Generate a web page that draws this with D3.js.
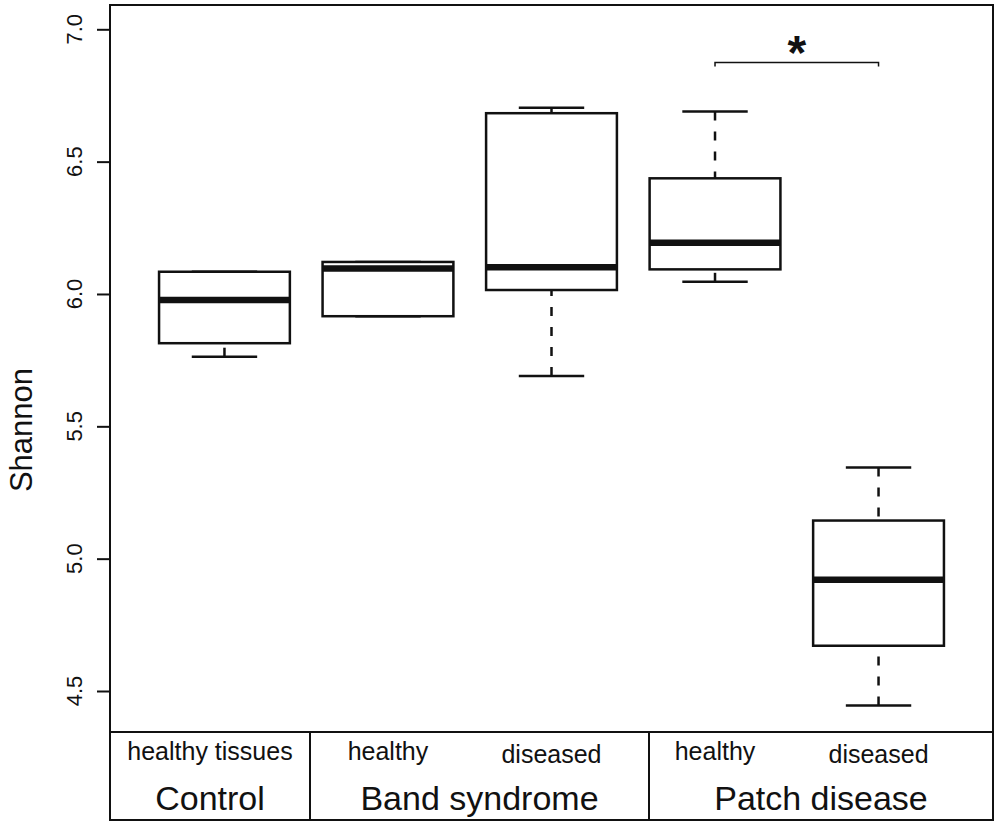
<!DOCTYPE html>
<html><head><meta charset="utf-8">
<script src="https://cdn.jsdelivr.net/npm/d3@7"></script>
<style>body{margin:0;background:#fff} text{font-family:"Liberation Sans",Arial,Helvetica,sans-serif;fill:#111}</style>
</head><body><svg id="c" width="1000" height="825"></svg>
<script>
// ---- data ----
const subLabels = ["healthy tissues","healthy","diseased","healthy","diseased"];
const groupNames = ["Control","Band syndrome","Patch disease"];
const groupOf = [0,1,1,2,2];
const whiskerLow  = [5.763, 5.916, 5.690, 6.046, 4.445];
const q1          = [5.814, 5.916, 6.015, 6.093, 4.671];
const medians     = [5.977, 6.096, 6.101, 6.194, 4.920];
const q3          = [6.084, 6.121, 6.683, 6.437, 5.144];
const whiskerHigh = [6.084, 6.121, 6.704, 6.689, 5.344];
const yTicks = [4.5, 5.0, 5.5, 6.0, 6.5, 7.0];
const yTickLabels = ["4.5","5.0","5.5","6.0","6.5","7.0"];
const sigPair = [4, 5];
const sigLevel = 6.875;
const sigLabel = "*";
const yTitle = "Shannon";

// ---- layout ----
const svg = d3.select("#c");
const L = 110, R = 993, T = 5, B = 732, TB = 820;
const x = d3.scaleLinear().domain([0.3, 5.7]).range([L, R]);
const y = d3.scaleLinear().domain([4.5, 7.0]).range([691, 29.3]);
const bw = x(1.4) - x(1);   // half box width (0.4 units)
const cw = bw / 2;           // half cap width
const col = "#111";

// frame
svg.append("rect").attr("x", L).attr("y", T).attr("width", R - L).attr("height", B - T)
  .attr("fill", "none").attr("stroke", col).attr("stroke-width", 2);

// y axis ticks
const yAxis = d3.axisLeft(y).tickValues(yTicks).tickSize(13).tickFormat("");
const ga = svg.append("g").attr("transform", `translate(${L},0)`).call(yAxis);
ga.select(".domain").remove();
ga.selectAll(".tick line").attr("stroke", col).attr("stroke-width", 2);
svg.selectAll(".ylab").data(yTicks).enter().append("text")
  .attr("transform", (d) => `translate(82,${y(d)}) rotate(-90)`)
  .attr("text-anchor", "middle").attr("font-size", 22)
  .text((d, i) => yTickLabels[i]);
svg.append("text").attr("transform", "translate(32,430) rotate(-90)")
  .attr("text-anchor", "middle").attr("font-size", 31).text(yTitle);

// boxes
const idx = d3.range(subLabels.length);
const g = svg.append("g");
idx.forEach(i => {
  const cx = x(i + 1);
  [[whiskerLow[i], q1[i]], [whiskerHigh[i], q3[i]]].forEach(([w, h]) => {
    if (Math.abs(y(w) - y(h)) > 0.5) {
      g.append("line").attr("x1", cx).attr("x2", cx).attr("y1", y(w)).attr("y2", y(h))
        .attr("stroke", col).attr("stroke-width", 2.5).attr("stroke-dasharray", "9,11");
    }
    g.append("line").attr("x1", cx - cw).attr("x2", cx + cw).attr("y1", y(w)).attr("y2", y(w))
      .attr("stroke", col).attr("stroke-width", 2.5);
  });
  g.append("rect").attr("x", cx - bw).attr("width", 2 * bw)
    .attr("y", y(q3[i])).attr("height", y(q1[i]) - y(q3[i]))
    .attr("fill", "#fff").attr("stroke", col).attr("stroke-width", 2.5);
  g.append("line").attr("x1", cx - bw).attr("x2", cx + bw).attr("y1", y(medians[i])).attr("y2", y(medians[i]))
    .attr("stroke", col).attr("stroke-width", 6.5);
});

// significance bar
const sx1 = x(sigPair[0]), sx2 = x(sigPair[1]), sy = y(sigLevel);
svg.append("path").attr("d", `M${sx1},${sy + 4}V${sy}H${sx2}V${sy + 4}`)
  .attr("fill", "none").attr("stroke", col).attr("stroke-width", 1.5);
svg.append("text").attr("x", (sx1 + sx2) / 2).attr("y", sy + 7)
  .attr("text-anchor", "middle").attr("font-size", 48).attr("font-weight", "bold").text(sigLabel);

// bottom table
const sep = [L, 310, 649, R];
svg.append("rect").attr("x", L).attr("y", B).attr("width", R - L).attr("height", TB - B)
  .attr("fill", "none").attr("stroke", col).attr("stroke-width", 2);
[1, 2].forEach(k => svg.append("line").attr("x1", sep[k]).attr("x2", sep[k]).attr("y1", B).attr("y2", TB)
  .attr("stroke", col).attr("stroke-width", 2));
groupNames.forEach((n, k) => {
  svg.append("text").attr("x", (sep[k] + sep[k + 1]) / 2).attr("y", 810)
    .attr("text-anchor", "middle").attr("font-size", 34).text(n);
});
idx.forEach(i => {
  const gi = groupOf[i];
  const single = groupOf.filter(v => v === gi).length === 1;
  const cx = single ? (sep[gi] + sep[gi + 1]) / 2 : x(i + 1);
  svg.append("text").attr("x", cx).attr("y", subLabels[i] === "diseased" ? 763 : 760)
    .attr("text-anchor", "middle").attr("font-size", 25).text(subLabels[i]);
});
</script></body></html>
